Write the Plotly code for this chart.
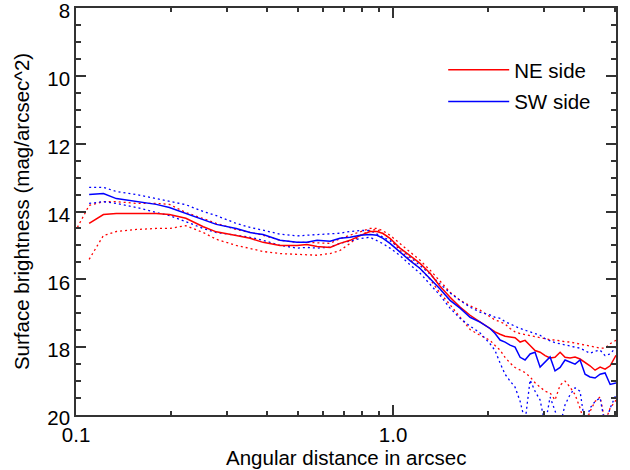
import plotly.graph_objects as go

# Angular distance (arcsec) sample positions
radius = [0.101, 0.110, 0.122, 0.134, 0.155, 0.179, 0.197, 0.222, 0.252, 0.277,
          0.320, 0.354, 0.389, 0.440, 0.498, 0.535, 0.576, 0.633, 0.680, 0.732,
          0.787, 0.846, 0.890, 0.930, 0.978, 1.052, 1.131, 1.217, 1.309, 1.400,
          1.513, 1.627, 1.750, 1.881, 2.023, 2.098, 2.176, 2.256, 2.340, 2.426,
          2.517, 2.609, 2.706, 2.805, 2.910, 3.018, 3.129, 3.243, 3.365, 3.488,
          3.618, 3.751, 3.890, 4.034, 4.180, 4.338, 4.500, 4.665, 4.840, 5.050]

ne_mean = [None, 14.35, 14.09, 14.06, 14.05, 14.06, 14.09, 14.20, 14.45, 14.60,
           14.71, 14.79, 14.91, 15.00, 15.00, 14.97, 15.03, 15.06, 14.94, 14.85,
           14.71, 14.59, 14.59, 14.65, 14.79, 15.08, 15.30, 15.53, 15.82, 16.18,
           16.53, 16.82, 17.06, 17.26, 17.44, 17.55, 17.62, 17.68, 17.70, 17.72,
           17.85, 17.80, 17.95, 18.10, 18.15, 18.25, 18.32, 18.30, 18.15, 18.30,
           18.32, 18.29, 18.35, 18.44, 18.55, 18.68, 18.59, 18.65, 18.55, 18.24]

ne_upper = [14.47, 13.82, 13.71, 13.71, 13.76, 13.76, 13.79, 14.03, 14.21, 14.35,
            14.53, 14.62, 14.70, 14.85, 14.91, 14.91, 14.93, 14.94, 14.80, 14.70,
            14.62, 14.50, 14.50, 14.57, 14.70, 14.94, 15.20, 15.44, 15.73, 16.03,
            16.38, 16.62, 16.78, 16.91, 17.10, 17.20, 17.25, 17.32, 17.45, 17.55,
            17.60, 17.63, 17.65, 17.70, 17.72, 17.76, 17.78, 17.79, 17.82, 17.84,
            17.85, 17.88, 17.92, 17.95, 17.98, 18.02, 18.03, 18.03, 17.90, 17.80]

ne_lower = [None, 15.41, 14.71, 14.59, 14.53, 14.50, 14.50, 14.42, 14.62, 14.82,
            15.00, 15.09, 15.18, 15.24, 15.26, 15.27, 15.29, 15.24, 15.15, 14.94,
            14.71, 14.56, 14.53, 14.65, 14.80, 15.15, 15.42, 15.68, 16.00, 16.38,
            16.75, 17.12, 17.48, 17.65, 17.80, 17.95, 18.09, 18.30, 18.47, 18.60,
            18.68, 18.75, 18.88, 19.05, 19.18, 19.30, 19.35, 19.56, 19.12, 19.00,
            19.18, 19.40, 19.80, 20.30, 19.90, 19.60, 19.47, 20.20, 19.80, 19.56]

sw_mean = [None, 13.50, 13.47, 13.62, 13.70, 13.79, 13.88, 14.06, 14.26, 14.38,
           14.50, 14.62, 14.68, 14.85, 14.91, 14.91, 14.85, 14.88, 14.79, 14.76,
           14.70, 14.68, 14.70, 14.79, 14.94, 15.20, 15.45, 15.68, 15.97, 16.26,
           16.62, 16.85, 17.12, 17.26, 17.45, 17.60, 17.79, 17.85, 17.94, 18.00,
           18.30, 18.38, 18.20, 18.15, 18.59, 18.45, 18.29, 18.70, 18.60, 18.38,
           18.45, 18.50, 18.38, 18.80, 18.88, 18.91, 18.80, 18.76, 19.10, 19.06]

sw_upper = [None, 13.29, 13.29, 13.41, 13.50, 13.62, 13.70, 13.80, 14.00, 14.12,
            14.35, 14.47, 14.55, 14.67, 14.72, 14.69, 14.68, 14.66, 14.64, 14.59,
            14.56, 14.56, 14.66, 14.74, 14.86, 15.08, 15.35, 15.59, 15.85, 16.12,
            16.40, 16.62, 16.82, 16.97, 17.05, 17.12, 17.15, 17.25, 17.32, 17.40,
            17.45, 17.50, 17.55, 17.60, 17.65, 17.75, 17.82, 17.87, 17.90, 17.94,
            17.97, 18.00, 18.03, 18.10, 18.18, 18.12, 18.09, 18.25, 18.20, 18.00]

sw_lower = [None, 13.76, 13.71, 13.76, 13.88, 14.03, 14.12, 14.30, 14.50, 14.62,
            14.69, 14.76, 14.85, 15.00, 15.08, 15.06, 15.08, 15.05, 14.94, 14.87,
            14.80, 14.76, 14.85, 14.95, 15.08, 15.30, 15.57, 15.82, 16.15, 16.45,
            16.85, 17.15, 17.38, 17.58, 17.90, 18.10, 18.47, 18.80, 19.00, 19.18,
            19.60, 20.20, 18.97, 19.30, 19.56, 20.30, 19.47, 19.90, 20.30, 19.70,
            19.40, 19.20, 19.30, 20.30, 19.80, 19.60, 19.50, 20.30, 19.80, 19.40]

x_major = [0.1, 1.0]
x_major_text = ["0.1", "1.0"]
x_minor = [0.2, 0.3, 0.4, 0.5, 0.6, 0.7, 0.8, 0.9, 2, 3, 4, 5]
y_major = [8, 10, 12, 14, 16, 18, 20]
x_title = "Angular distance in arcsec"
y_title = "Surface brightness (mag/arcsec^2)"

RED = "#ff0000"
BLUE = "#0000ff"
DOT = "2px,3px"
FS = 20.5

fig = go.Figure()
fig.add_trace(go.Scatter(x=radius, y=ne_upper, mode="lines", showlegend=False,
                         line=dict(color=RED, width=1.3, dash=DOT)))
fig.add_trace(go.Scatter(x=radius, y=ne_lower, mode="lines", showlegend=False,
                         line=dict(color=RED, width=1.3, dash=DOT)))
fig.add_trace(go.Scatter(x=radius, y=sw_upper, mode="lines", showlegend=False,
                         line=dict(color=BLUE, width=1.3, dash=DOT)))
fig.add_trace(go.Scatter(x=radius, y=sw_lower, mode="lines", showlegend=False,
                         line=dict(color=BLUE, width=1.3, dash=DOT)))
fig.add_trace(go.Scatter(x=radius, y=ne_mean, mode="lines", name="NE side",
                         legendgroup="ne", line=dict(color=RED, width=1.5)))
fig.add_trace(go.Scatter(x=radius, y=sw_mean, mode="lines", name="SW side",
                         legendgroup="sw", line=dict(color=BLUE, width=1.5)))

axis_common = dict(showline=True, mirror="ticks", linecolor="#333333", linewidth=1.5,
                   ticks="inside", tickcolor="#333333", tickwidth=1.5,
                   showgrid=False, zeroline=False, automargin=False,
                   ticklabeloverflow="allow",
                   tickfont=dict(size=FS, color="black"))

fig.update_xaxes(type="log", range=[-1.0001, 0.7033],
                 tickmode="array", tickvals=x_major, ticktext=x_major_text,
                 ticklen=10, ticklabelstandoff=1,
                 minor=dict(ticks="inside", ticklen=4, tickvals=x_minor,
                            tickcolor="#333333", tickwidth=1.5),
                 **axis_common)
fig.update_yaxes(range=[20.001, 7.999], tickmode="array", tickvals=y_major, ticklen=10,
                 ticklabelshift=-3,
                 minor=dict(ticks="inside", ticklen=5, dtick=0.5,
                            tickcolor="#333333", tickwidth=1.5),
                 title=dict(text=y_title, font=dict(size=FS, color="black"), standoff=12),
                 **axis_common)

fig.add_annotation(text=x_title, xref="paper", yref="paper", x=0.5, y=0,
                   xanchor="center", yanchor="middle", yshift=-42, showarrow=False,
                   font=dict(size=FS, color="black"))

fig.update_layout(
    template="none",
    width=630, height=470,
    margin=dict(l=76, r=14, t=8, b=55),
    paper_bgcolor="white", plot_bgcolor="white",
    font=dict(family="Liberation Sans, Arial, sans-serif", color="black"),
    showlegend=True,
    legend=dict(x=0.68, y=0.897, xanchor="left", yanchor="top",
                bgcolor="rgba(0,0,0,0)", font=dict(size=FS, color="black"),
                itemwidth=61, tracegroupgap=2),
)

# remove the default page margin so the 630x470 figure fills the window
fig.write_html("out.html", config={"displayModeBar": False},
               post_script="document.body.style.margin='0px';")
